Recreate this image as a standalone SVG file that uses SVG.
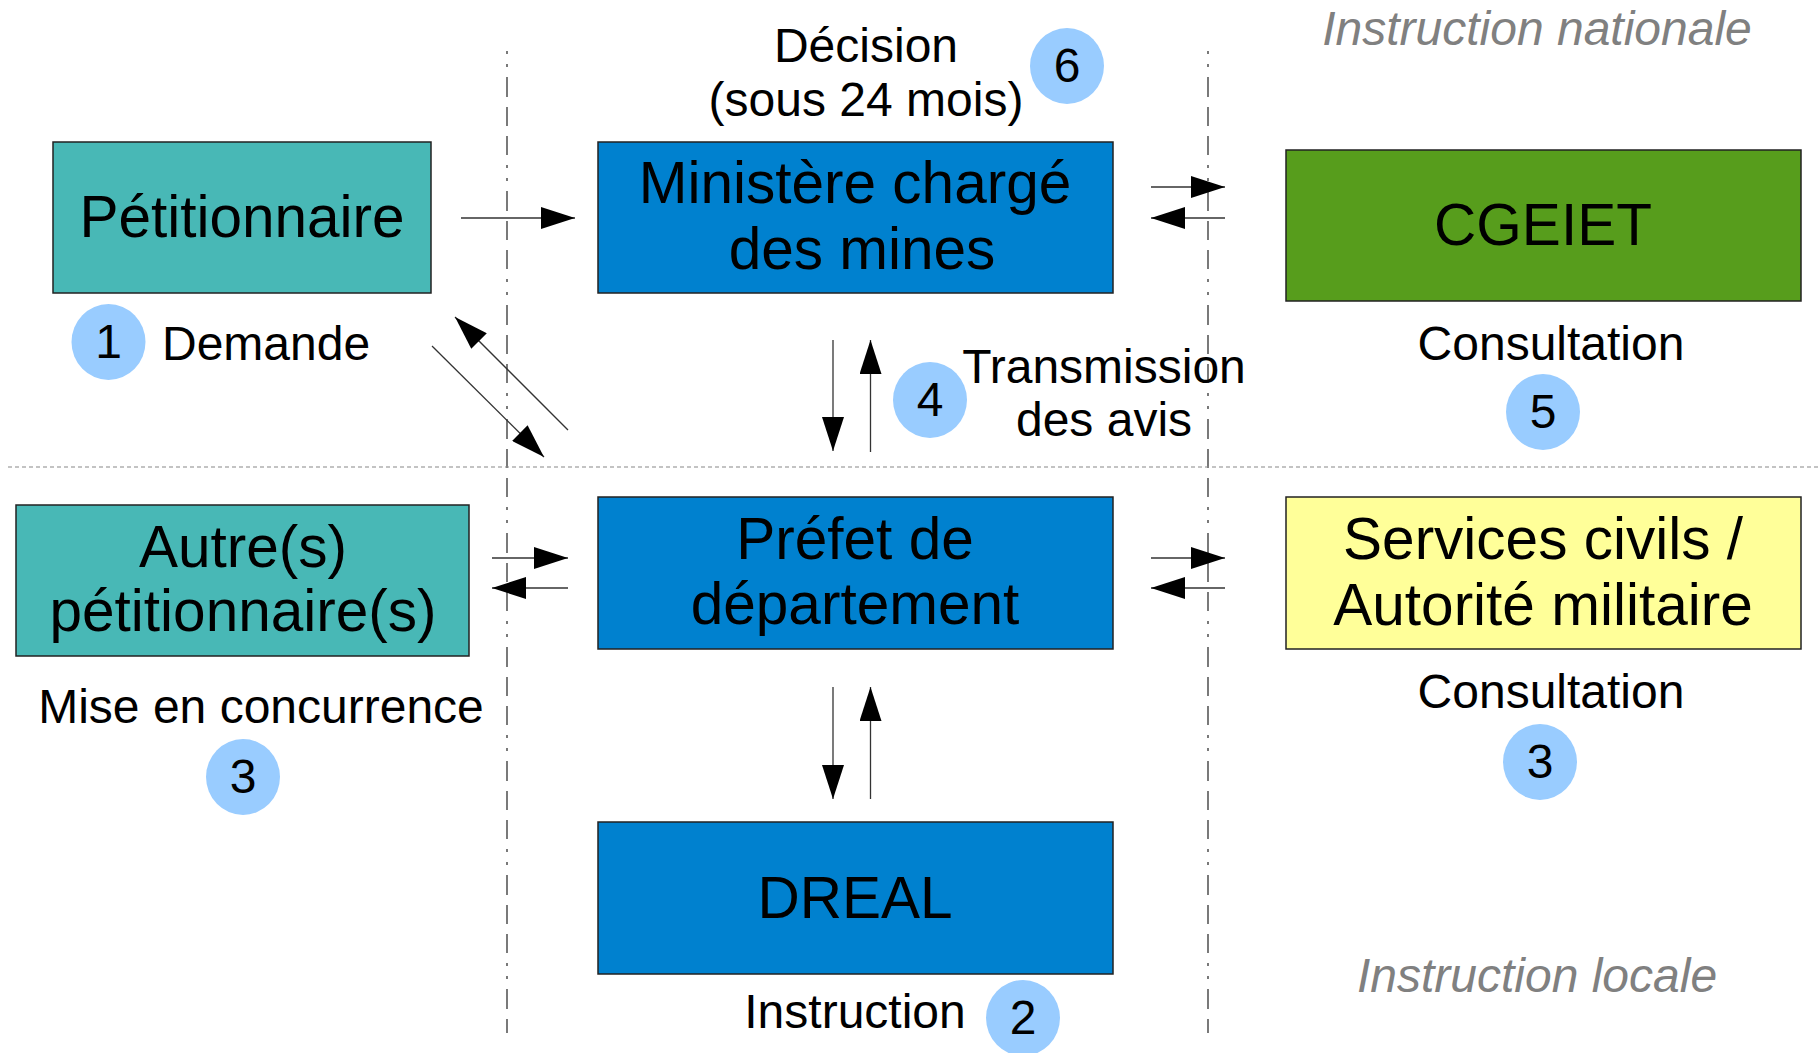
<svg xmlns="http://www.w3.org/2000/svg" width="1820" height="1053" viewBox="0 0 1820 1053">
<style>
text{font-family:"Liberation Sans",Arial,sans-serif;fill:#000}
.box{stroke:#222;stroke-width:1.5}
.big{font-size:58.5px;text-anchor:middle}
.lbl{font-size:48px}
.mid{text-anchor:middle}
.ital{font-size:48px;font-style:italic;fill:#808080;text-anchor:middle}
.num{fill:#99ccff}
.arr{stroke:#333;stroke-width:1.3;fill:none;marker-end:url(#ah)}
.sep{stroke:#333;stroke-width:1.3;fill:none;stroke-dasharray:3,10,3,10,20,10,19,10,19,10}
.hsep{stroke:#888;stroke-width:1.2;fill:none;stroke-dasharray:4,3}
</style>
<defs>
<marker id="ah" markerUnits="userSpaceOnUse" markerWidth="34" markerHeight="22" refX="34" refY="11" orient="auto">
<path d="M0,0 L34,11 L0,22 z" fill="#000"/>
</marker>
</defs>
<rect width="1820" height="1053" fill="#fff"/>
<g id="separators">
<line class="sep" x1="507" y1="51" x2="507" y2="1033"/>
<line class="sep" x1="1208" y1="51" x2="1208" y2="1033"/>
<line class="hsep" x1="8" y1="467" x2="1820" y2="467"/>
</g>
<g id="zone-labels">
<text class="ital" x="1537" y="45">Instruction nationale</text>
<text class="ital" x="1537" y="992">Instruction locale</text>
</g>
<g id="petitionnaire">
<rect class="box" x="53" y="142" width="378" height="151" fill="#48b8b6"/>
<text class="big" x="242" y="237">Pétitionnaire</text>
</g>
<g id="ministere">
<rect class="box" x="598" y="142" width="515" height="151" fill="#0081cf"/>
<text class="big" x="855" y="203">Ministère chargé</text>
<text class="big" x="862" y="269">des mines</text>
</g>
<g id="cgeiet">
<rect class="box" x="1286" y="150" width="515" height="151" fill="#579d1c"/>
<text class="big" x="1543" y="245">CGEIET</text>
</g>
<g id="autres">
<rect class="box" x="16" y="505" width="453" height="151" fill="#48b8b6"/>
<text class="big" x="243" y="567">Autre(s)</text>
<text class="big" x="243" y="631">pétitionnaire(s)</text>
</g>
<g id="prefet">
<rect class="box" x="598" y="497" width="515" height="152" fill="#0081cf"/>
<text class="big" x="855" y="559">Préfet de</text>
<text class="big" x="855" y="624">département</text>
</g>
<g id="services">
<rect class="box" x="1286" y="497" width="515" height="152" fill="#ffff99"/>
<text class="big" x="1543" y="559">Services civils /</text>
<text class="big" x="1543" y="625">Autorité militaire</text>
</g>
<g id="dreal">
<rect class="box" x="598" y="822" width="515" height="152" fill="#0081cf"/>
<text class="big" x="855" y="918">DREAL</text>
</g>
<g id="step1">
<ellipse class="num" cx="108.5" cy="342" rx="37" ry="38"/>
<text class="lbl mid" x="108.5" y="358">1</text>
<text class="lbl" x="162" y="360">Demande</text>
</g>
<g id="step2">
<text class="lbl mid" x="855" y="1028">Instruction</text>
<ellipse class="num" cx="1023" cy="1018" rx="37" ry="38"/>
<text class="lbl mid" x="1023" y="1034">2</text>
</g>
<g id="step3-left">
<text class="lbl mid" x="261" y="723">Mise en concurrence</text>
<ellipse class="num" cx="243" cy="777" rx="37" ry="38"/>
<text class="lbl mid" x="243" y="793">3</text>
</g>
<g id="step3-right">
<text class="lbl mid" x="1551" y="708">Consultation</text>
<ellipse class="num" cx="1540" cy="762" rx="37" ry="38"/>
<text class="lbl mid" x="1540" y="778">3</text>
</g>
<g id="step4">
<ellipse class="num" cx="930" cy="400" rx="37" ry="38"/>
<text class="lbl mid" x="930" y="416">4</text>
<text class="lbl mid" x="1104" y="383">Transmission</text>
<text class="lbl mid" x="1104" y="436">des avis</text>
</g>
<g id="step5">
<text class="lbl mid" x="1551" y="360">Consultation</text>
<ellipse class="num" cx="1543" cy="412" rx="37" ry="38"/>
<text class="lbl mid" x="1543" y="428">5</text>
</g>
<g id="step6">
<text class="lbl mid" x="866" y="62">Décision</text>
<text class="lbl mid" x="866" y="116">(sous 24 mois)</text>
<ellipse class="num" cx="1067" cy="66" rx="37" ry="38"/>
<text class="lbl mid" x="1067" y="82">6</text>
</g>
<g id="connectors">
<line class="arr" x1="461" y1="218" x2="575" y2="218"/>
<line class="arr" x1="1151" y1="187" x2="1225" y2="187"/>
<line class="arr" x1="1225" y1="218" x2="1151" y2="218"/>
<line class="arr" x1="432" y1="346" x2="544" y2="457"/>
<line class="arr" x1="568" y1="430" x2="455" y2="317"/>
<line class="arr" x1="833" y1="340" x2="833" y2="451"/>
<line class="arr" x1="870.5" y1="452" x2="870.5" y2="340"/>
<line class="arr" x1="492" y1="558" x2="568" y2="558"/>
<line class="arr" x1="568" y1="588" x2="492" y2="588"/>
<line class="arr" x1="1151" y1="558" x2="1225" y2="558"/>
<line class="arr" x1="1225" y1="588" x2="1151" y2="588"/>
<line class="arr" x1="833" y1="687" x2="833" y2="799"/>
<line class="arr" x1="870.5" y1="799" x2="870.5" y2="687"/>
</g>
</svg>
